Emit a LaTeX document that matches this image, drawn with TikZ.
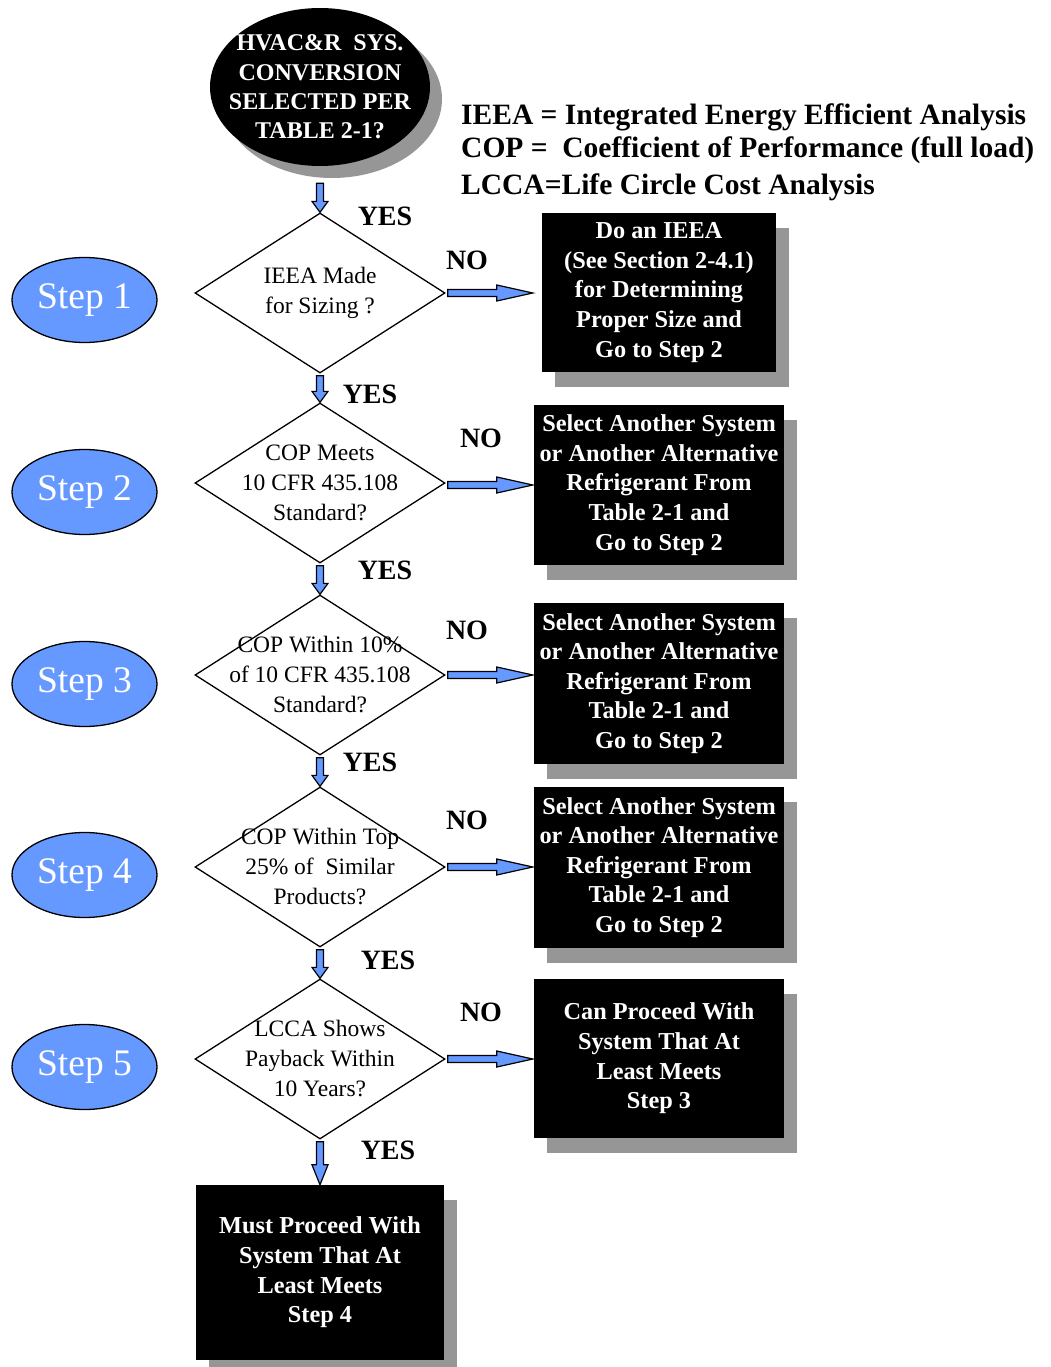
\documentclass[tikz,border=0pt]{standalone}
\usepackage{fontspec}
\setmainfont{Liberation Serif}
\usetikzlibrary{shapes.geometric,shadows,calc}
\definecolor{stepblue}{RGB}{102,153,255}
\definecolor{arrowblue}{RGB}{102,153,255}
\definecolor{shadowgray}{RGB}{150,150,150}
\newcommand\blockarrow[3][11pt]{%
  \coordinate (ba-s) at #2;
  \coordinate (ba-e) at #3;
  \coordinate (ba-h) at ($(ba-e)!#1!(ba-s)$);
  \filldraw[barrow] ($(ba-s)!3.5pt!90:(ba-e)$) -- ($(ba-h)!3.5pt!-90:(ba-s)$)
    -- ($(ba-h)!8pt!-90:(ba-s)$) -- (ba-e) -- ($(ba-h)!8pt!90:(ba-s)$)
    -- ($(ba-h)!3.5pt!90:(ba-s)$) -- ($(ba-s)!3.5pt!-90:(ba-e)$) -- cycle;
}
\begin{document}
\begin{tikzpicture}[x=1pt,y=-1pt,
  stepnode/.style={ellipse, draw=black, line width=1.3pt, fill=stepblue, minimum width=145pt, minimum height=85pt, inner sep=0pt, text=white, font=\fontsize{37.5pt}{40pt}\selectfont},
  topnode/.style={ellipse, fill=black, minimum width=220pt, minimum height=158pt, inner sep=0pt, drop shadow={shadow xshift=12pt, shadow yshift=-12pt, fill=shadowgray, opacity=1}},
  toptext/.style={align=center, text=white, inner sep=0pt, font=\bfseries\fontsize{24pt}{29.3pt}\selectfont},
  decision/.style={diamond, draw=black, line width=1.3pt, minimum width=250pt, minimum height=160pt, inner sep=0pt},
  dtext/.style={align=center, inner sep=0pt, font=\fontsize{23.5pt}{30pt}\selectfont},
  actionbox/.style={rectangle, fill=black, text=white, minimum width=250pt, minimum height=160pt, inner sep=0pt, align=center, font=\bfseries\fontsize{24.3pt}{29.6pt}\selectfont, drop shadow={shadow xshift=13pt, shadow yshift=-15pt, fill=shadowgray, opacity=1}},
  answer/.style={inner sep=0pt, font=\bfseries\fontsize{28pt}{30pt}\selectfont},
  legend/.style={anchor=base west, inner sep=0pt, font=\bfseries\fontsize{29.5pt}{34pt}\selectfont},
  barrow/.style={fill=arrowblue, draw=black, line width=1.2pt, line join=miter}
]
\useasboundingbox (0,0) rectangle (1050,1367);

% top question
\node[topnode, label={[toptext]center:{HVAC\&R\ \ SYS.\\CONVERSION\\SELECTED PER\\TABLE 2-1?}}] (top) at (320,87) {};

% legend
\node[legend] (leg1) at (461,125) {IEEA = Integrated Energy Efficient Analysis};
\node[legend] (leg2) at (461,158) {COP =\ \ Coefficient of Performance (full load)};
\node[legend] (leg3) at (461,194) {LCCA=Life Circle Cost Analysis};

% steps
\node[stepnode] (s1) at (84.5,300) {Step 1};
\node[stepnode] (s2) at (84.5,492) {Step 2};
\node[stepnode] (s3) at (84.5,684) {Step 3};
\node[stepnode] (s4) at (84.5,875) {Step 4};
\node[stepnode] (s5) at (84.5,1067) {Step 5};

% decisions
\node[decision, label={[dtext]center:{IEEA Made\\for Sizing ?}}] (d1) at (320,293) {};
\node[decision, label={[dtext]center:{COP Meets\\10 CFR 435.108\\Standard?}}] (d2) at (320,483) {};
\node[decision, label={[dtext]center:{COP Within 10\%\\of 10 CFR 435.108\\Standard?}}] (d3) at (320,675) {};
\node[decision, label={[dtext]center:{COP Within Top\\25\%\ of\ \ Similar\\Products?}}] (d4) at (320,867) {};
\node[decision, label={[dtext]center:{LCCA Shows\\Payback Within\\10 Years?}}] (d5) at (320,1059) {};

% action boxes
\node[actionbox, minimum width=234pt, minimum height=159pt] (b1) at (659,292.5) {Do an IEEA\\(See Section 2-4.1)\\for Determining\\Proper Size and\\Go to Step 2};
\node[actionbox] (b2) at (659,485) {Select Another System\\or Another Alternative\\Refrigerant From\\Table 2-1 and\\Go to Step 2};
\node[actionbox, minimum height=161pt] (b3) at (659,683.5) {Select Another System\\or Another Alternative\\Refrigerant From\\Table 2-1 and\\Go to Step 2};
\node[actionbox, minimum height=161pt] (b4) at (659,867.5) {Select Another System\\or Another Alternative\\Refrigerant From\\Table 2-1 and\\Go to Step 2};
\node[actionbox, minimum height=159pt] (b5) at (659,1058.5) {Can Proceed With\\System That At\\Least Meets\\Step 3};
\node[actionbox, minimum width=248pt, minimum height=175pt] (b6) at (320,1272.5) {Must Proceed With\\System That At\\Least Meets\\Step 4};

% answers
\node[answer] (y1) at (385,216) {YES};
\node[answer] (n1) at (467,260) {NO};
\node[answer] (y2) at (370,394) {YES};
\node[answer] (n2) at (481,438) {NO};
\node[answer] (y3) at (385,570) {YES};
\node[answer] (n3) at (467,630) {NO};
\node[answer] (y4) at (370,762) {YES};
\node[answer] (n4) at (467,820) {NO};
\node[answer] (y5) at (388,960) {YES};
\node[answer] (n5) at (481,1012) {NO};
\node[answer] (y6) at (388,1150) {YES};

% vertical arrows
\blockarrow{($(top.south)+(0,17)$)}{(d1.north)}
\blockarrow{($(d1.south)+(0,2)$)}{(d2.north)}
\blockarrow{($(d2.south)+(0,2)$)}{(d3.north)}
\blockarrow{($(d3.south)+(0,2)$)}{(d4.north)}
\blockarrow{($(d4.south)+(0,2)$)}{(d5.north)}
\blockarrow[20pt]{($(d5.south)+(0,2)$)}{(b6.north)}

% horizontal arrows
\blockarrow[36pt]{($(d1.east)+(2,0)$)}{($(b1.west |- d1.east)+(-9,0)$)}
\blockarrow[36pt]{($(d2.east)+(2,2)$)}{($(b2.west |- d2.east)+(-1,2)$)}
\blockarrow[36pt]{($(d3.east)+(2,0)$)}{($(b3.west |- d3.east)+(-1,0)$)}
\blockarrow[36pt]{($(d4.east)+(2,0)$)}{($(b4.west |- d4.east)+(-1,0)$)}
\blockarrow[36pt]{($(d5.east)+(2,0)$)}{($(b5.west |- d5.east)+(-1,0)$)}
\end{tikzpicture}
\end{document}
